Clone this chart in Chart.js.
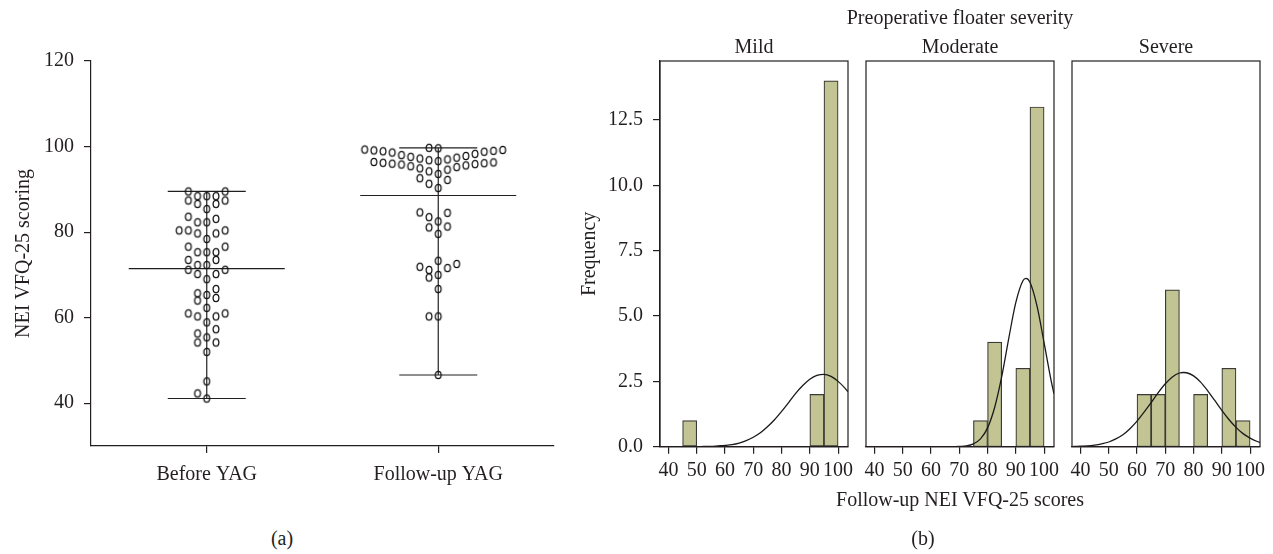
<!DOCTYPE html>
<html>
<head>
<meta charset="utf-8">
<script src="https://cdn.jsdelivr.net/npm/chart.js@4.4.1/dist/chart.umd.min.js"></script>
<style>
  html, body { margin:0; padding:0; background:#ffffff; }
  body { width:1273px; height:554px; position:relative; overflow:hidden;
         font-family:'Liberation Serif','Times New Roman',serif; color:#231f20; }
  canvas { position:absolute; top:0; }
  .txt { position:absolute; font-size:20px; line-height:20px; white-space:nowrap; transform:translateX(-50%); }
</style>
</head>
<body>
<canvas id="dotplot" width="570" height="500" style="left:0px"></canvas>
<canvas id="pMild" width="300" height="520" style="left:560px"></canvas>
<canvas id="pModerate" width="220" height="520" style="left:846px"></canvas>
<canvas id="pSevere" width="220" height="520" style="left:1052px"></canvas>
<div class="txt" style="left:960px;top:7px">Preoperative floater severity</div>
<div class="txt" style="left:960px;top:489px">Follow-up NEI VFQ-25 scores</div>
<div class="txt" style="left:282px;top:528px">(a)</div>
<div class="txt" style="left:923px;top:528px">(b)</div>
<script>
// ---------------- data: panel (a) ----------------
const categories = ['Before YAG', 'Follow-up YAG'];
const beforeYAG = [
  41.1, 42.3, 45.1, 52.0, 54.2, 54.2, 55.4, 56.3, 57.3, 58.9,
  60.3, 60.3, 61.0, 61.0, 62.3, 64.0, 64.6, 65.3, 65.7, 66.7,
  69.0, 70.2, 70.2, 71.2, 71.2, 72.3, 72.3, 73.5, 73.5, 75.3,
  75.3, 75.3, 76.6, 76.6, 78.4, 79.7, 79.7, 80.4, 80.4, 80.4,
  82.3, 82.3, 83.1, 83.6, 85.4, 86.6, 86.6, 87.4, 87.4, 88.4,
  88.4, 88.4, 89.5, 89.5
];
const followUpYAG = [
  46.6, 60.3, 60.3, 66.7, 69.4, 70.0, 71.15, 71.6, 71.9, 72.55,
  73.3, 79.6, 81.1, 81.3, 82.5, 83.5, 84.5, 84.6,
  90.3, 91.3, 92.2, 92.6, 93.6, 94.2, 94.6, 94.9,
  95.2, 95.4, 95.6, 95.8, 95.9, 96.0, 96.1, 96.2, 96.3, 96.4,
  96.6, 96.8, 97.0, 97.2, 97.4, 97.6, 97.8, 98.0, 98.3, 98.6,
  98.8, 98.9, 99.0, 99.1, 99.2, 99.3, 99.6, 99.7
];
const yTicksA = [40, 60, 80, 100, 120];

// ---------------- data: panel (b) ----------------
const severityGroups = ['Mild', 'Moderate', 'Severe'];
const binLower = [40, 45, 50, 55, 60, 65, 70, 75, 80, 85, 90, 95];
const binWidth = 5;
const mildCounts     = [0, 1, 0, 0, 0, 0, 0, 0, 0, 0, 2, 14];
const moderateCounts = [0, 0, 0, 0, 0, 0, 0, 1, 4, 0, 3, 13];
const severeCounts   = [0, 0, 0, 0, 2, 2, 6, 0, 2, 0, 3, 1];
const xTicksB = [40, 50, 60, 70, 80, 90, 100];
const yTicksB = [0, 2.5, 5, 7.5, 10, 12.5];

const mildCurveX = [37.5, 40, 42.5, 45, 47.5, 50, 52.5, 55, 57.5, 60, 62.5, 65, 67.5, 70, 72.5, 75, 77.5, 80, 82.5, 85, 87.5, 90, 92.5, 95, 97.5, 100, 102.5, 103.5];
const mildCurveY = [0, 0, 0, 0, 0, 0, 0.01, 0.01, 0.03, 0.05, 0.08, 0.14, 0.23, 0.36, 0.53, 0.76, 1.03, 1.35, 1.69, 2.04, 2.34, 2.58, 2.73, 2.77, 2.69, 2.50, 2.23, 2.10];
const moderateCurveX = [37.5, 50, 60, 65, 67.5, 70, 72.5, 75, 77.5, 80, 82.5, 85, 87.5, 90, 92.5, 93.6, 95, 97.5, 100, 102.5, 103.5];
const moderateCurveY = [0, 0, 0, 0, 0, 0.01, 0.03, 0.11, 0.30, 0.72, 1.50, 2.68, 4.15, 5.52, 6.35, 6.44, 6.29, 5.38, 3.97, 2.52, 2.02];
const severeCurveX = [37.5, 40, 42.5, 45, 47.5, 50, 52.5, 55, 57.5, 60, 62.5, 65, 67.5, 70, 72.5, 75, 76.5, 77.5, 80, 82.5, 85, 87.5, 90, 92.5, 95, 97.5, 100, 102.5, 103.5];
const severeCurveY = [0.01, 0.02, 0.03, 0.06, 0.11, 0.18, 0.30, 0.46, 0.69, 0.98, 1.32, 1.69, 2.07, 2.41, 2.67, 2.82, 2.84, 2.83, 2.71, 2.47, 2.14, 1.77, 1.39, 1.04, 0.74, 0.50, 0.33, 0.20, 0.16];

// ---------------- styles ----------------
const INK = '#231f20';
const FONT = "'Liberation Serif', 'Times New Roman', serif";
const BAR_FILL = '#c2c494';
const BAR_EDGE = '#3b3a36';
const GROUP_SPAN = 2.9;   // value range gathered into one row of the dot plot
const SLOT_PX = 9.2;      // horizontal spacing of dots
const CAP_HALF_PX = 39;
const MEAN_HALF_PX = 78;

Chart.defaults.font.family = FONT;
Chart.defaults.font.size = 20;
Chart.defaults.color = INK;

function tickGrid(len) {
  return { display: true, drawOnChartArea: false, drawTicks: true, tickLength: len,
           color: INK, tickColor: INK, lineWidth: 1.2, offset: false };
}
const axisBorder = { display: true, color: INK, width: 1.2 };

function makeDot() {
  const c = document.createElement('canvas');
  c.width = 10; c.height = 12;
  const g = c.getContext('2d');
  g.strokeStyle = '#111111'; g.lineWidth = 1.25;
  g.beginPath(); g.ellipse(5, 6, 2.9, 3.6, 0, 0, Math.PI * 2); g.stroke();
  return c;
}
const dotImg = makeDot();

// ---------------- panel (a) ----------------
const groupsA = [beforeYAG, followUpYAG];
const centers = [0.5, 1.5];
const lineDs = (pts) => ({ data: pts, showLine: true, borderColor: INK, borderWidth: 1.2,
                           pointRadius: 0, fill: false, order: 2 });

const dsA = [];
groupsA.forEach((vals, g) => {
  dsA.push({ data: vals.map(v => ({ x: centers[g], y: v })), pointStyle: dotImg,
             pointRadius: 4, pointHoverRadius: 4, showLine: false, order: 0 });
});
groupsA.forEach((vals, g) => {
  for (let k = 0; k < 4; k++) dsA.push(lineDs([]));
});

const chartA = new Chart(document.getElementById('dotplot'), {
  type: 'scatter',
  data: { datasets: dsA },
  options: {
    responsive: false, animation: false, events: [],
    layout: { padding: { top: 61, right: 16, left: 0, bottom: 0 } },
    plugins: { legend: { display: false }, tooltip: { enabled: false } },
    scales: {
      x: {
        type: 'linear', min: 0, max: 2,
        afterBuildTicks: s => { s.ticks = centers.map(v => ({ value: v })); },
        afterFit: s => { s.height = 54; },
        grid: tickGrid(7), border: axisBorder,
        ticks: { padding: 10, autoSkip: false, maxRotation: 0, color: INK,
                 font: { family: FONT, size: 20 },
                 callback: (v, i) => categories[i] }
      },
      y: {
        type: 'linear', min: 30, max: 120,
        afterBuildTicks: s => { s.ticks = yTicksA.map(v => ({ value: v })); },
        afterFit: s => { s.width = 91; },
        grid: tickGrid(7), border: axisBorder,
        ticks: { padding: 10, color: INK, font: { family: FONT, size: 20 } },
        title: { display: true, text: 'NEI VFQ-25 scoring', color: INK,
                 font: { family: FONT, size: 20 }, padding: { top: 12, bottom: 0 } }
      }
    }
  }
});

(function layoutSwarm() {
  const xs = chartA.scales.x;
  const ppu = (xs.right - xs.left) / (xs.max - xs.min);
  groupsA.forEach((vals, g) => {
    const c = centers[g];
    const order = vals.map((v, i) => i).sort((a, b) => vals[a] - vals[b]);
    const pts = [];
    let k = 0;
    while (k < order.length) {
      const start = vals[order[k]];
      let j = 0;
      while (k < order.length && vals[order[k]] < start + GROUP_SPAN - 1e-9) {
        const slot = j === 0 ? 0 : (j % 2 ? -(j + 1) / 2 : j / 2);
        pts.push({ x: c + slot * SLOT_PX / ppu, y: vals[order[k]] });
        j++; k++;
      }
    }
    chartA.data.datasets[g].data = pts;
    const mn = Math.min(...vals), mx = Math.max(...vals);
    const mean = vals.reduce((a, b) => a + b, 0) / vals.length;
    const cap = CAP_HALF_PX / ppu, mh = MEAN_HALF_PX / ppu;
    const base = 2 + g * 4;
    chartA.data.datasets[base].data = [{ x: c, y: mn }, { x: c, y: mx }];
    chartA.data.datasets[base + 1].data = [{ x: c - cap, y: mx }, { x: c + cap, y: mx }];
    chartA.data.datasets[base + 2].data = [{ x: c - cap, y: mn }, { x: c + cap, y: mn }];
    chartA.data.datasets[base + 3].data = [{ x: c - mh, y: mean }, { x: c + mh, y: mean }];
  });
  chartA.update('none');
})();

// ---------------- panel (b) ----------------
const boxPlugin = {
  id: 'panelBox',
  afterDraw(chart) {
    const { ctx, chartArea: a } = chart;
    ctx.save();
    ctx.strokeStyle = INK; ctx.lineWidth = 1.2;
    ctx.strokeRect(a.left, a.top, a.right - a.left, a.bottom - a.top);
    ctx.restore();
  }
};

function makePanel(id, counts, cx, cy, showY, padLeft) {
  const bars = binLower.map((b, i) => ({ x: b + binWidth / 2, y: counts[i] })).filter(p => p.y > 0);
  const curve = cx.map((x, i) => ({ x: x, y: cy[i] }));
  return new Chart(document.getElementById(id), {
    type: 'bar',
    data: {
      datasets: [
        { type: 'line', data: curve, borderColor: '#1a1a1a', borderWidth: 1.3, pointRadius: 0,
          fill: false, cubicInterpolationMode: 'monotone', order: 0 },
        { type: 'bar', data: bars, backgroundColor: BAR_FILL, borderColor: BAR_EDGE, borderWidth: 1.2,
          borderSkipped: false, barPercentage: 1, categoryPercentage: 1, order: 1 }
      ]
    },
    options: {
      responsive: false, animation: false, events: [],
      layout: { padding: { top: 61, right: 12, left: padLeft, bottom: 0 } },
      plugins: { legend: { display: false }, tooltip: { enabled: false } },
      scales: {
        x: {
          type: 'linear', min: 37, max: 103.5, offset: false,
          afterBuildTicks: s => { s.ticks = xTicksB.map(v => ({ value: v })); },
          afterFit: s => { s.height = 73.3; },
          grid: tickGrid(7), border: axisBorder,
          ticks: { padding: 5, autoSkip: false, maxRotation: 0, color: INK,
                   font: { family: FONT, size: 20 }, callback: v => String(v) }
        },
        y: {
          type: 'linear', min: 0, max: 14.76, display: showY,
          afterBuildTicks: s => { s.ticks = yTicksB.map(v => ({ value: v })); },
          afterFit: s => { s.width = showY ? 100 : 0; },
          grid: tickGrid(7), border: axisBorder,
          ticks: { padding: 10, color: INK, font: { family: FONT, size: 20 },
                   callback: v => Number(v).toFixed(1) },
          title: { display: showY, text: 'Frequency', color: INK,
                   font: { family: FONT, size: 20 }, padding: { top: 18, bottom: 0 } }
        }
      }
    },
    plugins: [boxPlugin]
  });
}

const panels = [
  { id: 'pMild', left: 560, c: makePanel('pMild', mildCounts, mildCurveX, mildCurveY, true, 0) },
  { id: 'pModerate', left: 846, c: makePanel('pModerate', moderateCounts, moderateCurveX, moderateCurveY, false, 20) },
  { id: 'pSevere', left: 1052, c: makePanel('pSevere', severeCounts, severeCurveX, severeCurveY, false, 20) }
];
panels.forEach((p, i) => {
  const a = p.c.chartArea;
  const d = document.createElement('div');
  d.className = 'txt';
  d.textContent = severityGroups[i];
  d.style.left = (p.left + (a.left + a.right) / 2) + 'px';
  d.style.top = '36px';
  document.body.appendChild(d);
});
</script>
</body>
</html>
